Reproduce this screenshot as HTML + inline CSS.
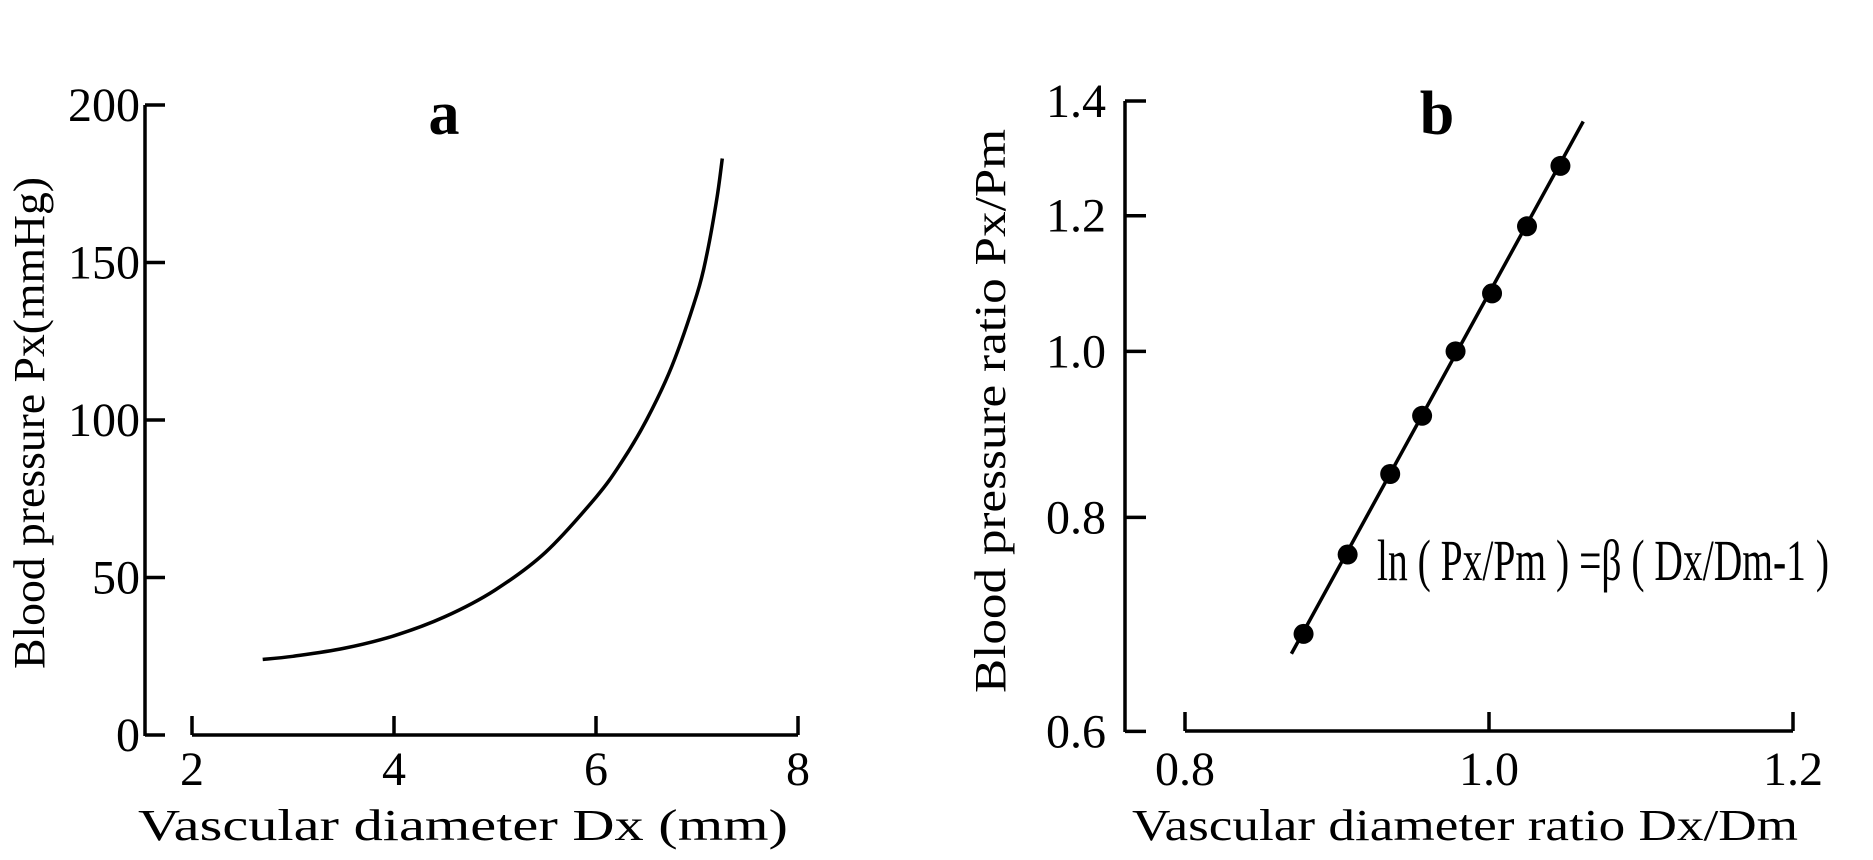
<!DOCTYPE html>
<html><head><meta charset="utf-8"><style>
html,body{margin:0;padding:0;background:#fff;}
svg{display:block;font-family:"Liberation Serif",serif;}
</style></head><body>
<svg id="fig" width="1873" height="860" viewBox="0 0 1873 860">
</svg>
<script>
// Panel a data
const aXTicks=[2,4,6,8];
const aYTicks=[0,50,100,150,200];
const aCurveD=[2.7,3,3.5,4,4.5,5,5.5,6,6.25,6.5,6.75,7,7.1,7.2,7.25];
const aCurveP=[24,25,27.5,31.5,37.5,46,58,75.5,86.5,100,117,140,153,171,183];
// Panel b data
const bXTicks=[0.8,1.0,1.2];
const bYTicks=[0.6,0.8,1.0,1.2,1.4];
const bPointsD=[0.878,0.907,0.935,0.956,0.978,1.002,1.025,1.047];
const bPointsP=[0.684,0.761,0.848,0.917,1.0,1.081,1.183,1.283];
const bLineD=[0.870,1.062];
const bLineP=[0.666,1.362];

const NS="http://www.w3.org/2000/svg";
const svg=document.getElementById('fig');
function mk(tag,attrs,parent){const e=document.createElementNS(NS,tag);for(const k in attrs)e.setAttribute(k,attrs[k]);(parent||svg).appendChild(e);return e;}

// scales
const axA=d=>192+(d-2)*(798-192)/6;
const ayA=p=>735-p*(735-105)/200;
const axB=d=>1185+(d-0.8)*(1793-1185)/0.4;
const ayB=p=>101+(Math.log(1.4)-Math.log(p))*744;

// ---- Panel a ----
const ga=mk('g',{});


let e;
e=mk('line',{x1:145,y1:105,x2:145,y2:736,stroke:'#000','stroke-width':3.5},ga);

e=mk('line',{x1:192,y1:735,x2:798,y2:735,stroke:'#000','stroke-width':3.5},ga);

aYTicks.forEach(v=>{
  const y=ayA(v);
  const t=mk('line',{x1:145,y1:y,x2:165,y2:y,stroke:'#000','stroke-width':3.5},ga);
  
  const l=mk('text',{x:140,y:y+16,'text-anchor':'end','font-size':48},ga);
  l.textContent=v;
  
});
aXTicks.forEach(v=>{
  const x=axA(v);
  const t=mk('line',{x1:x,y1:735,x2:x,y2:716,stroke:'#000','stroke-width':3.5},ga);
  
  const l=mk('text',{x:x,y:785,'text-anchor':'middle','font-size':48},ga);
  l.textContent=v;
  
});
// smooth curve (Catmull-Rom -> Bezier)
const pts=aCurveD.map((d,i)=>[axA(d),ayA(aCurveP[i])]);
let dA='M'+pts[0][0].toFixed(1)+','+pts[0][1].toFixed(1);
for(let i=0;i<pts.length-1;i++){
  const p0=pts[Math.max(0,i-1)],p1=pts[i],p2=pts[i+1],p3=pts[Math.min(pts.length-1,i+2)];
  const c1=[p1[0]+(p2[0]-p0[0])/6,p1[1]+(p2[1]-p0[1])/6];
  const c2=[p2[0]-(p3[0]-p1[0])/6,p2[1]-(p3[1]-p1[1])/6];
  dA+='C'+c1.map(v=>v.toFixed(1)).join(',')+' '+c2.map(v=>v.toFixed(1)).join(',')+' '+p2.map(v=>v.toFixed(1)).join(',');
}
e=mk('path',{d:dA,fill:'none',stroke:'#000','stroke-width':3.5,'stroke-linejoin':'round'},ga);

e=mk('text',{x:444,y:134,'text-anchor':'middle','font-size':62,'font-weight':'bold'},ga);
e.textContent='a';
e=mk('text',{x:463,y:840,'text-anchor':'middle','font-size':44,textLength:650,lengthAdjust:'spacingAndGlyphs'},ga);
e.textContent='Vascular diameter Dx  (mm)';
e=mk('text',{x:0,y:0,'text-anchor':'middle','font-size':44,textLength:492,lengthAdjust:'spacingAndGlyphs',transform:'translate(44,423) rotate(-90)'},ga);
e.textContent='Blood pressure Px(mmHg)';

// ---- Panel b ----
const gb=mk('g',{});


e=mk('line',{x1:1125,y1:101,x2:1125,y2:732,stroke:'#000','stroke-width':3.5},gb);

e=mk('line',{x1:1185,y1:731,x2:1793,y2:731,stroke:'#000','stroke-width':3.5},gb);

bYTicks.forEach(v=>{
  const y=ayB(v);
  const t=mk('line',{x1:1125,y1:y,x2:1146,y2:y,stroke:'#000','stroke-width':3.5},gb);
  
  const l=mk('text',{x:1106,y:y+16,'text-anchor':'end','font-size':48},gb);
  l.textContent=v.toFixed(1);
  
});
bXTicks.forEach(v=>{
  const x=axB(v);
  const t=mk('line',{x1:x,y1:731,x2:x,y2:712,stroke:'#000','stroke-width':3.5},gb);
  
  const l=mk('text',{x:x,y:785,'text-anchor':'middle','font-size':48},gb);
  l.textContent=v.toFixed(1);
  
});
e=mk('line',{x1:axB(bLineD[0]),y1:ayB(bLineP[0]),x2:axB(bLineD[1]),y2:ayB(bLineP[1]),stroke:'#000','stroke-width':3.5},gb);

bPointsD.forEach((d,i)=>{
  const c=mk('circle',{cx:axB(d),cy:ayB(bPointsP[i]),r:10,fill:'#000'},gb);
  
});
e=mk('text',{x:1437,y:134,'text-anchor':'middle','font-size':62,'font-weight':'bold'},gb);
e.textContent='b';
e=mk('text',{x:1377,y:580,'font-size':58,textLength:452,lengthAdjust:'spacingAndGlyphs'},gb);
e.textContent='ln ( Px/Pm ) =β ( Dx/Dm-1 )';
e=mk('text',{x:1465,y:840,'text-anchor':'middle','font-size':44,textLength:666,lengthAdjust:'spacingAndGlyphs'},gb);
e.textContent='Vascular diameter ratio Dx/Dm';
e=mk('text',{x:0,y:0,'text-anchor':'middle','font-size':44,textLength:564,lengthAdjust:'spacingAndGlyphs',transform:'translate(1005,411) rotate(-90)'},gb);
e.textContent='Blood pressure ratio Px/Pm';
</script>
</body></html>
